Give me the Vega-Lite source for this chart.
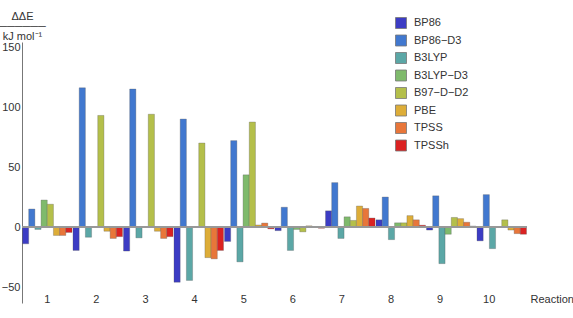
{
  "$schema": "https://vega.github.io/schema/vega-lite/v6.json",
  "width": 505,
  "height": 261,
  "autosize": {"type": "none"},
  "padding": {"left": 22, "top": 42, "right": 46, "bottom": 15},
  "background": "white",
  "config": {
    "view": {"stroke": null},
    "font": "Liberation Sans",
    "axis": {"labelFont": "Liberation Sans", "titleFont": "Liberation Sans", "labelColor": "#333", "titleColor": "#333", "labelFontSize": 11, "titleFontSize": 11, "titleFontWeight": "normal"},
    "legend": {"labelFont": "Liberation Sans", "labelFontSize": 11, "labelColor": "#333"}
  },
  "data": {
    "values": [
      {"Reaction": 1, "Method": "BP86", "dE": -14},
      {"Reaction": 1, "Method": "BP86−D3", "dE": 15},
      {"Reaction": 1, "Method": "B3LYP", "dE": -2},
      {"Reaction": 1, "Method": "B3LYP−D3", "dE": 22.5},
      {"Reaction": 1, "Method": "B97−D−D2", "dE": 19},
      {"Reaction": 1, "Method": "PBE", "dE": -7},
      {"Reaction": 1, "Method": "TPSS", "dE": -7},
      {"Reaction": 1, "Method": "TPSSh", "dE": -4.5},
      {"Reaction": 2, "Method": "BP86", "dE": -19.5},
      {"Reaction": 2, "Method": "BP86−D3", "dE": 116},
      {"Reaction": 2, "Method": "B3LYP", "dE": -8.5},
      {"Reaction": 2, "Method": "B3LYP−D3", "dE": 0},
      {"Reaction": 2, "Method": "B97−D−D2", "dE": 93},
      {"Reaction": 2, "Method": "PBE", "dE": -3.5},
      {"Reaction": 2, "Method": "TPSS", "dE": -9.5},
      {"Reaction": 2, "Method": "TPSSh", "dE": -8},
      {"Reaction": 3, "Method": "BP86", "dE": -20},
      {"Reaction": 3, "Method": "BP86−D3", "dE": 115},
      {"Reaction": 3, "Method": "B3LYP", "dE": -9},
      {"Reaction": 3, "Method": "B3LYP−D3", "dE": 0},
      {"Reaction": 3, "Method": "B97−D−D2", "dE": 94},
      {"Reaction": 3, "Method": "PBE", "dE": -3.5},
      {"Reaction": 3, "Method": "TPSS", "dE": -9.5},
      {"Reaction": 3, "Method": "TPSSh", "dE": -8},
      {"Reaction": 4, "Method": "BP86", "dE": -46},
      {"Reaction": 4, "Method": "BP86−D3", "dE": 90},
      {"Reaction": 4, "Method": "B3LYP", "dE": -44.5},
      {"Reaction": 4, "Method": "B3LYP−D3", "dE": 0},
      {"Reaction": 4, "Method": "B97−D−D2", "dE": 70},
      {"Reaction": 4, "Method": "PBE", "dE": -25.5},
      {"Reaction": 4, "Method": "TPSS", "dE": -26.5},
      {"Reaction": 4, "Method": "TPSSh", "dE": -19.5},
      {"Reaction": 5, "Method": "BP86", "dE": -12},
      {"Reaction": 5, "Method": "BP86−D3", "dE": 72},
      {"Reaction": 5, "Method": "B3LYP", "dE": -29},
      {"Reaction": 5, "Method": "B3LYP−D3", "dE": 43.5},
      {"Reaction": 5, "Method": "B97−D−D2", "dE": 87.5},
      {"Reaction": 5, "Method": "PBE", "dE": 1.7},
      {"Reaction": 5, "Method": "TPSS", "dE": 3.3},
      {"Reaction": 5, "Method": "TPSSh", "dE": -1.5},
      {"Reaction": 6, "Method": "BP86", "dE": -3},
      {"Reaction": 6, "Method": "BP86−D3", "dE": 16.5},
      {"Reaction": 6, "Method": "B3LYP", "dE": -19.5},
      {"Reaction": 6, "Method": "B3LYP−D3", "dE": -2},
      {"Reaction": 6, "Method": "B97−D−D2", "dE": -4},
      {"Reaction": 6, "Method": "PBE", "dE": 1},
      {"Reaction": 6, "Method": "TPSS", "dE": 0.3},
      {"Reaction": 6, "Method": "TPSSh", "dE": -1},
      {"Reaction": 7, "Method": "BP86", "dE": 13.5},
      {"Reaction": 7, "Method": "BP86−D3", "dE": 37},
      {"Reaction": 7, "Method": "B3LYP", "dE": -9.5},
      {"Reaction": 7, "Method": "B3LYP−D3", "dE": 8.5},
      {"Reaction": 7, "Method": "B97−D−D2", "dE": 5.5},
      {"Reaction": 7, "Method": "PBE", "dE": 17.5},
      {"Reaction": 7, "Method": "TPSS", "dE": 15.5},
      {"Reaction": 7, "Method": "TPSSh", "dE": 7.5},
      {"Reaction": 8, "Method": "BP86", "dE": 6},
      {"Reaction": 8, "Method": "BP86−D3", "dE": 25},
      {"Reaction": 8, "Method": "B3LYP", "dE": -10.5},
      {"Reaction": 8, "Method": "B3LYP−D3", "dE": 3.5},
      {"Reaction": 8, "Method": "B97−D−D2", "dE": 3.5},
      {"Reaction": 8, "Method": "PBE", "dE": 9.5},
      {"Reaction": 8, "Method": "TPSS", "dE": 6},
      {"Reaction": 8, "Method": "TPSSh", "dE": 1.5},
      {"Reaction": 9, "Method": "BP86", "dE": -2.5},
      {"Reaction": 9, "Method": "BP86−D3", "dE": 26},
      {"Reaction": 9, "Method": "B3LYP", "dE": -30.5},
      {"Reaction": 9, "Method": "B3LYP−D3", "dE": -6},
      {"Reaction": 9, "Method": "B97−D−D2", "dE": 8},
      {"Reaction": 9, "Method": "PBE", "dE": 7},
      {"Reaction": 9, "Method": "TPSS", "dE": 4},
      {"Reaction": 9, "Method": "TPSSh", "dE": 0.8},
      {"Reaction": 10, "Method": "BP86", "dE": -11.5},
      {"Reaction": 10, "Method": "BP86−D3", "dE": 27},
      {"Reaction": 10, "Method": "B3LYP", "dE": -18},
      {"Reaction": 10, "Method": "B3LYP−D3", "dE": 0},
      {"Reaction": 10, "Method": "B97−D−D2", "dE": 6},
      {"Reaction": 10, "Method": "PBE", "dE": -2.5},
      {"Reaction": 10, "Method": "TPSS", "dE": -5.5},
      {"Reaction": 10, "Method": "TPSSh", "dE": -6}
    ]
  },
  "layer": [
    {
      "mark": {"type": "bar", "stroke": "#555", "strokeWidth": 0.6, "strokeOpacity": 0.5},
      "encoding": {
        "x": {
          "field": "Reaction", "type": "ordinal",
          "scale": {"paddingInner": 0.02, "paddingOuter": 0.01},
          "axis": {
            "orient": "bottom", "domain": false, "ticks": false, "tickSize": 0, "labelAngle": 0,
            "labelBaseline": "middle", "labelPadding": -4,
            "labelOffset": {"expr": "-1.39 * (datum.value - 1)"},
            "title": "Reaction", "titleX": 508, "titleY": -4, "titleAlign": "left", "titleBaseline": "middle", "titleAnchor": "start"
          }
        },
        "xOffset": {
          "field": "Method", "type": "nominal",
          "sort": ["BP86", "BP86−D3", "B3LYP", "B3LYP−D3", "B97−D−D2", "PBE", "TPSS", "TPSSh"],
          "scale": {"paddingInner": 0, "paddingOuter": 0}
        },
        "y": {
          "field": "dE", "type": "quantitative",
          "scale": {"domain": [-63.3, 154.2], "nice": false, "zero": false},
          "axis": {
            "values": [-50, 0, 50, 100, 150], "grid": false, "ticks": false, "labelPadding": 2,
            "domainColor": "#777", "domainWidth": 1,
            "title": ["ΔΔE", "──────", "kJ mol⁻¹"], "titleAngle": 0, "titleX": 0, "titleY": -32,
            "titleAlign": "center", "titleBaseline": "top", "titleLineHeight": 10
          }
        },
        "color": {
          "field": "Method", "type": "nominal",
          "sort": ["BP86", "BP86−D3", "B3LYP", "B3LYP−D3", "B97−D−D2", "PBE", "TPSS", "TPSSh"],
          "scale": {
            "domain": ["BP86", "BP86−D3", "B3LYP", "B3LYP−D3", "B97−D−D2", "PBE", "TPSS", "TPSSh"],
            "range": ["#3C3CC4", "#4178CF", "#5BA7A6", "#7FBA6C", "#B4BF4A", "#DDAD38", "#E8763A", "#DB2222"]
          },
          "legend": {
            "orient": "none", "legendX": 373, "legendY": -25, "title": null,
            "symbolType": "square", "symbolSize": 121, "symbolStrokeColor": "#777", "symbolStrokeWidth": 0.8,
            "rowPadding": 1.5, "labelOffset": 7
          }
        }
      }
    },
    {
      "mark": {"type": "rule", "color": "#999", "strokeWidth": 1},
      "encoding": {"y": {"datum": 0}}
    }
  ]
}
